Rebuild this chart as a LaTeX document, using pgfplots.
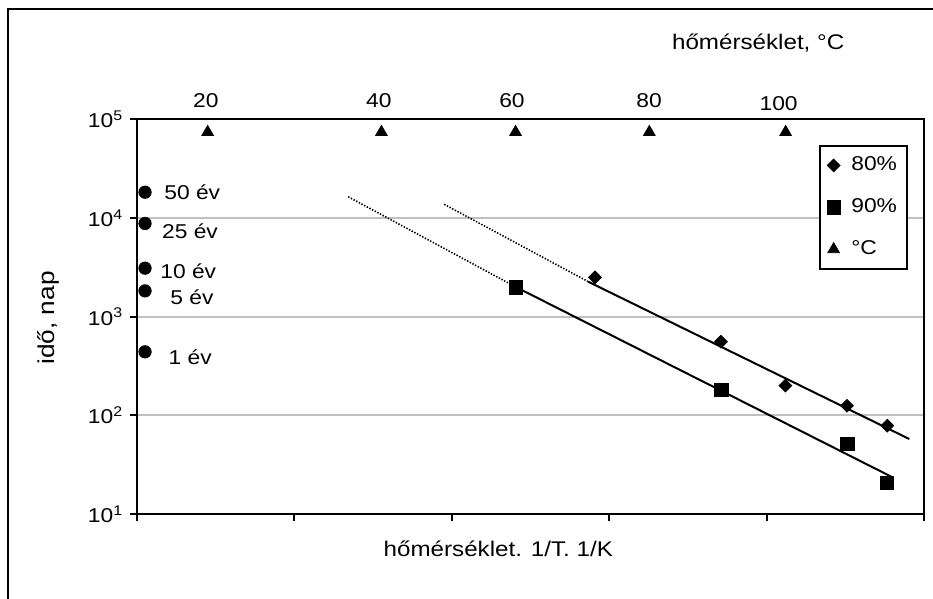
\documentclass[border=0pt]{standalone}
\usepackage{pgfplots}
\pgfplotsset{compat=1.18}
\usepackage{fontspec}
\setmainfont{Liberation Sans}[FakeStretch=1.14]
\definecolor{gridc}{RGB}{192,192,192}
\newcommand{\fs}{\fontsize{10}{12}\selectfont}
\newcommand{\ft}{\fontsize{10.6}{12.5}\selectfont}
\newcommand{\fy}{\fontsize{11.5}{13}\selectfont}
\begin{document}
\begin{tikzpicture}[x=0.5pt,y=0.5pt]
\useasboundingbox (0,0) rectangle (933,599);
\draw[line width=1pt] (7.7,-20) -- (7.7,590) -- (960,590);
\begin{axis}[
  at={(68.5pt,42.5pt)}, anchor=south west,
  scale only axis, width=393.5pt, height=197.35pt,
  xmin=0, xmax=5, ymode=log, log basis y=10, ymin=10, ymax=100000,
  xtick={0,1,2,3,4,5}, xticklabels={},
  ytick={10,100,1000,10000,100000},
  yticklabels={10\textsuperscript{1},10\textsuperscript{2},10\textsuperscript{3},10\textsuperscript{4},10\textsuperscript{5}},
  yminorticks=false,
  ymajorgrids, major grid style={gridc, line width=1pt},
  axis line style={line width=1pt},
  tick style={black, line width=1pt},
  tick align=outside, xtick pos=bottom, ytick pos=left,
  major tick length=3.4pt,
  tick label style={font=\fs},
  clip=false,
  legend style={at={(0.8666,0.935)}, anchor=north west, draw=black, line width=1pt, fill=white,
    font=\fs, inner xsep=3.5pt, inner ysep=4pt, row sep=9.5pt, column sep=4pt, nodes={inner sep=1.5pt}},
  legend cell align=left,
  legend image code/.code={\draw[#1, line width=0.4pt] plot coordinates {(0pt,0pt)};},
]
% trend lines
\addplot[forget plot, black, line width=1pt, mark=none] coordinates {(2.867,2260) (4.907,57.5)};
\addplot[forget plot, black, line width=0.8pt, dash pattern=on 0.7pt off 0.8pt, mark=none] coordinates {(1.952,13740) (2.867,2260)};
\addplot[forget plot, black, line width=1pt, mark=none] coordinates {(2.406,2000) (4.801,23.5)};
\addplot[forget plot, black, line width=0.8pt, dash pattern=on 0.7pt off 0.8pt, mark=none] coordinates {(1.342,16400) (2.406,2000)};
% data
\addplot[only marks, mark=square*, mark size=2.25pt, mark options={rotate=45, fill=black, draw=black, solid}] coordinates {(2.910,2500) (3.710,557) (4.119,200) (4.511,125) (4.767,78.5)};
\addlegendentry{80\%}
\addplot[only marks, mark=square*, mark size=3.33pt, mark options={fill=black, draw=black, solid}] coordinates {(2.406,1980) (3.712,181) (4.513,51.5) (4.763,20.6)};
\addlegendentry{90\%}
\addplot[only marks, mark=triangle*, mark size=3.37pt, mark options={fill=black, draw=black, solid}] coordinates {(0.449,74000) (1.553,74000) (2.405,74000) (3.255,74000) (4.121,74000)};
\addlegendentry{°C}
\addplot[forget plot, only marks, mark=*, mark size=3.1pt, mark options={fill=black, draw=black}] coordinates {(0.051,18250) (0.051,8800) (0.051,3100) (0.051,1825) (0.051,440)};
\end{axis}
% point labels
\begin{scope}[every node/.style={inner sep=0pt, font=\fs}]
\node[anchor=base west] at (164,399.7) {50 év};
\node[anchor=base west] at (161.7,360.7) {25 év};
\node[anchor=base west] at (160,320.7) {10 év};
\node[anchor=base west] at (170,294) {5 év};
\node[anchor=base west] at (168.3,234) {1 év};
\node[anchor=base] at (205.8,491.3) {20};
\node[anchor=base] at (378.8,491.3) {40};
\node[anchor=base] at (512,491.3) {60};
\node[anchor=base] at (649,491.3) {80};
\node[anchor=base] at (778.6,488.5) {100};
\node[anchor=base west, font=\ft] at (671.7,549) {hőmérséklet, °C};
\node[anchor=base west, font=\ft] at (383.3,42.3) {hőmérséklet. 1/T. 1/K};
\node[rotate=90, font=\fy] at (48,281) {idő, nap};
\end{scope}
\end{tikzpicture}
\end{document}
